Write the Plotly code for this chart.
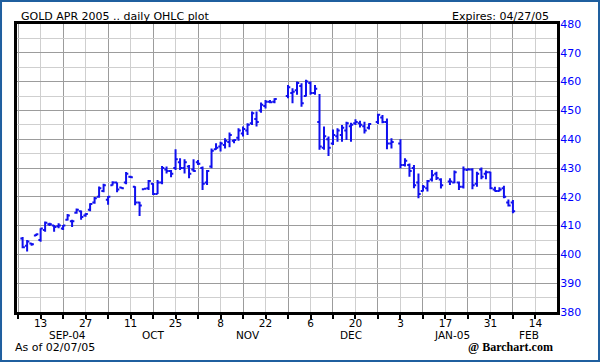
import numpy as np
import pandas as pd
import plotly.graph_objects as go

# ---------------- data ----------------
holidays = ["2004-11-25", "2004-11-26", "2004-12-24", "2004-12-31", "2005-01-17"]
dates = [d.strftime("%Y-%m-%d") for d in pd.bdate_range("2004-09-07", "2005-02-07")
         if d.strftime("%Y-%m-%d") not in holidays]

opens = [405.5, 403.0, 403.8, 406.6, 405.0, 408.5, 410.5, 410.0, 409.8, 409.0,
         412.0, 411.5, 414.5, 415.0, 413.5, 415.5, 418.0, 420.0, 422.0, 419.0,
         424.0, 425.0, 423.2, 425.0, 427.0, 423.5, 418.0, 422.6, 423.0, 424.5,
         421.0, 425.0, 429.5, 429.0, 430.0, 432.0, 430.0, 430.5, 429.5, 432.0,
         430.0, 425.0, 430.5, 436.5, 437.5, 438.0, 439.0, 439.5, 440.5, 442.0,
         443.0, 445.5, 447.0, 450.0, 451.5, 453.0, 453.0,
         455.0, 456.0, 457.0, 458.5, 455.0, 459.5, 456.0, 446.0, 437.0, 440.0,
         438.5, 441.0, 441.5, 443.0, 444.5, 445.5, 445.5, 444.5, 444.0,
         446.0, 447.5, 446.0, 438.5,
         438.5, 431.0, 431.0, 430.0, 425.0, 422.0, 423.0, 426.0, 428.0, 426.0,
         425.3, 425.0, 425.0, 423.5, 429.3, 429.5, 424.5, 429.5, 428.0, 428.5,
         422.5, 422.0, 423.0, 418.0, 418.0]
highs = [406.0, 405.0, 404.0, 407.2, 409.1, 411.4, 411.0, 410.2, 410.8, 410.2,
         414.0, 412.0, 415.9, 415.2, 414.3, 417.8, 419.9, 423.6, 424.5, 420.3,
         425.4, 425.0, 423.4, 428.6, 427.3, 423.7, 418.3, 423.0, 425.8, 424.7,
         425.8, 430.7, 430.5, 429.3, 436.5, 433.4, 433.0, 431.0, 433.0, 432.8,
         430.5, 429.3, 436.8, 438.6, 439.1, 440.3, 442.3, 440.0, 443.8, 444.4,
         445.5, 449.6, 449.6, 452.7, 453.6, 453.6, 454.2,
         458.8, 457.7, 460.0, 459.4, 460.6, 460.0, 458.8, 455.7, 444.4, 440.9,
         443.4, 443.8, 444.9, 446.1, 445.7, 446.9, 446.4, 446.1, 445.5,
         448.8, 448.4, 447.2, 440.3,
         440.0, 433.4, 431.6, 431.0, 428.1, 424.1, 425.8, 429.3, 428.7, 426.4,
         426.4, 429.1, 425.3, 430.5, 429.9, 429.9, 428.7, 430.2, 429.1, 428.7,
         423.5, 423.3, 423.8, 419.1, 418.9]
lows = [402.1, 401.0, 403.0, 406.4, 404.4, 407.9, 409.9, 407.9, 409.1, 408.5,
        411.8, 409.5, 414.1, 412.0, 413.1, 415.0, 417.6, 419.7, 421.6, 417.2,
        423.9, 421.6, 422.8, 424.4, 426.5, 417.1, 413.3, 422.5, 422.4, 420.6,
        421.0, 424.4, 428.1, 426.8, 429.3, 429.3, 428.1, 426.4, 428.7, 431.0,
        422.4, 424.1, 429.9, 436.3, 435.7, 436.8, 437.2, 438.6, 439.5, 440.9,
        441.5, 444.9, 444.4, 449.2, 450.7, 452.5, 452.5,
        454.2, 452.5, 455.4, 451.3, 454.8, 455.4, 455.4, 436.3, 436.3, 434.2,
        438.0, 439.1, 439.1, 439.7, 439.1, 444.9, 444.1, 442.0, 443.4,
        445.3, 445.5, 436.5, 436.8,
        429.9, 430.5, 427.0, 423.0, 419.5, 421.8, 421.8, 425.3, 425.8, 422.9,
        424.1, 424.7, 422.4, 422.9, 429.1, 422.6, 423.5, 426.1, 426.1, 422.6,
        421.8, 421.8, 419.5, 416.6, 414.3]
closes = [402.5, 404.5, 403.5, 407.0, 409.0, 411.0, 410.5, 409.5, 410.0, 410.0,
          413.5, 411.5, 415.5, 413.0, 414.0, 417.5, 419.5, 423.0, 424.0, 420.0,
          425.0, 422.5, 423.0, 428.0, 426.8, 418.0, 417.0, 422.8, 425.5, 421.0,
          425.0, 430.0, 429.0, 428.0, 433.0, 430.0, 432.0, 428.0, 429.0, 431.5,
          424.5, 429.0, 436.0, 437.0, 438.5, 439.5, 441.5, 439.7, 443.0, 443.5,
          445.0, 449.0, 446.0, 452.0, 453.0, 452.8, 454.0,
          458.0, 456.5, 459.5, 452.5, 460.0, 456.0, 457.5, 437.5, 441.0, 437.0,
          441.5, 443.0, 444.0, 445.5, 445.0, 446.0, 445.0, 443.0, 445.3,
          448.5, 446.0, 438.5, 439.0,
          431.0, 432.5, 429.0, 424.0, 421.0, 423.5, 425.5, 427.5, 426.5, 424.0,
          425.3, 428.5, 423.5, 429.5, 429.5, 424.0, 428.0, 427.0, 428.5, 423.0,
          422.0, 422.5, 420.0, 417.0, 415.0]

tick_dates = ["2004-09-13", "2004-09-27", "2004-10-11", "2004-10-25", "2004-11-08",
              "2004-11-22", "2004-12-06", "2004-12-20", "2005-01-03", "2005-01-17",
              "2005-01-31", "2005-02-14"]
tick_text = ["13", "27", "11", "25", "8", "22", "6", "20", "3", "17", "31", "14"]
month_labels = ["SEP-04", "OCT", "NOV", "DEC", "JAN-05", "FEB"]
month_pos = [6.0, 25.0, 46.0, 69.0, 91.5, 108.5]   # in trading-week-day units

# trading-weekday axis (Mon 2004-09-13 = 0)
origin = "2004-09-13"
x = np.busday_count(origin, dates)
tickvals = np.busday_count(origin, tick_dates)

BLUE = "#1010ee"
FONT = "DejaVu Sans"

fig = go.Figure(go.Ohlc(
    x=x, open=opens, high=highs, low=lows, close=closes,
    increasing=dict(line=dict(color=BLUE, width=2)),
    decreasing=dict(line=dict(color=BLUE, width=2)),
    tickwidth=0.5, hoverinfo="skip",
))

fig.update_layout(
    width=600, height=362,
    margin=dict(l=17, r=43, t=24, b=50),
    paper_bgcolor="white", plot_bgcolor="white",
    showlegend=False,
    font=dict(family=FONT, size=11, color="black"),
)

fig.update_xaxes(
    range=[-5.25, 114.8],
    rangeslider_visible=False,
    tickmode="array", tickvals=tickvals, ticktext=tick_text,
    tickfont=dict(family=FONT, size=10.5, color="black"),
    ticks="outside", ticklen=4, tickwidth=2, tickcolor="black",
    ticklabelstandoff=-5,
    showgrid=True, gridcolor="#cfcfcf", gridwidth=1,
    minor=dict(tick0=0, dtick=5, showgrid=True, gridcolor="#9c9c9c", gridwidth=1,
               ticks="outside", ticklen=4, tickwidth=2, tickcolor="black"),
    showline=True, linewidth=3, linecolor="black", mirror=True,
    zeroline=False, fixedrange=True,
)

fig.update_yaxes(
    range=[380, 480], side="right",
    tickmode="linear", tick0=380, dtick=10,
    tickfont=dict(family=FONT, size=11, color="#0000ff"),
    ticks="", ticklabelstandoff=-2,
    showgrid=True, gridcolor="#9c9c9c", gridwidth=1,
    minor=dict(tick0=375, dtick=5, showgrid=True, gridcolor="#cfcfcf", gridwidth=1),
    showline=True, linewidth=3, linecolor="black", mirror=True,
    zeroline=False, fixedrange=True,
)

# month labels under the day numbers
for lab, pos in zip(month_labels, month_pos):
    fig.add_annotation(x=pos, y=-0.081, xref="x", yref="paper", text=lab,
                       showarrow=False, xanchor="center", yanchor="middle",
                       font=dict(family=FONT, size=10.5, color="black"))

fig.add_annotation(x=0.004, y=1.025, xref="paper", yref="paper",
                   text="GOLD APR 2005 .. daily OHLC plot", showarrow=False,
                   xanchor="left", yanchor="middle",
                   font=dict(family=FONT, size=11, color="black"))
fig.add_annotation(x=0.988, y=1.025, xref="paper", yref="paper",
                   text="Expires: 04/27/05", showarrow=False,
                   xanchor="right", yanchor="middle",
                   font=dict(family=FONT, size=11, color="black"))
fig.add_annotation(x=-0.008, y=-0.122, xref="paper", yref="paper",
                   text="As of 02/07/05", showarrow=False,
                   xanchor="left", yanchor="middle",
                   font=dict(family=FONT, size=11, color="black"))
fig.add_annotation(x=0.996, y=-0.122, xref="paper", yref="paper",
                   text="<b>@ Barchart.com</b>", showarrow=False,
                   xanchor="right", yanchor="middle",
                   font=dict(family="Liberation Serif", size=12, color="black"))

# outer frame of the image
fig.add_shape(type="rect", xref="paper", yref="paper",
              x0=-0.0296, x1=1.0778, y0=-0.1701, y1=1.0799,
              line=dict(color="#1f5f9f", width=2), fillcolor="rgba(0,0,0,0)",
              layer="above")

fig.write_html("out.html",
               config={"displayModeBar": False},
               post_script="document.body.style.margin='0';document.body.style.overflow='hidden';")
